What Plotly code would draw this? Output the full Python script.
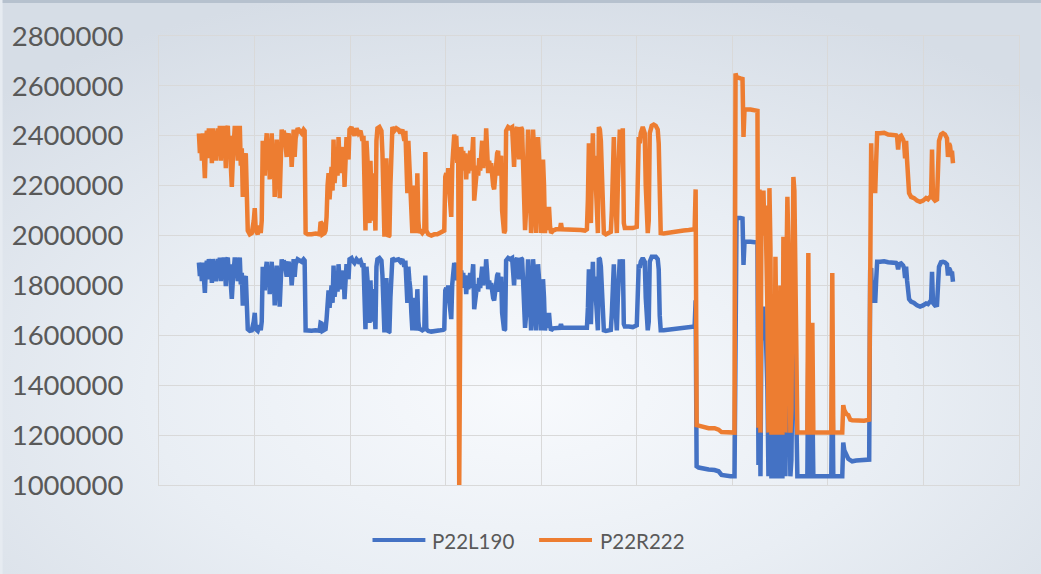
import base64
import plotly.graph_objects as go

# Sample number of each reading (shared by both channels)
sample = [
    400, 410, 420, 430, 440, 450, 460, 470, 480, 490,
    500, 510, 520, 530, 540, 550, 560, 570, 580, 590,
    600, 610, 620, 630, 640, 650, 660, 670, 680, 690,
    700, 710, 720, 730, 740, 750, 760, 770, 780, 790,
    800, 810, 820, 830, 840, 850, 870, 890, 910, 930,
    950, 960, 970, 990, 1010, 1020, 1030, 1040, 1050, 1060,
    1070, 1080, 1090, 1100, 1110, 1120, 1130, 1140, 1150, 1160,
    1170, 1180, 1190, 1200, 1210, 1220, 1230, 1240, 1250, 1260,
    1270, 1280, 1290, 1300, 1310, 1320, 1330, 1340, 1350, 1360,
    1370, 1390, 1410, 1430, 1450, 1460, 1470, 1490, 1530, 1570,
    1610, 1620, 1630, 1640, 1660, 1670, 1680, 1690, 1700, 1710,
    1720, 1730, 1740, 1750, 1760, 1770, 1780, 1790, 1800, 1810,
    1820, 1830, 1840, 1850, 1860, 1870, 1880, 1890, 1900, 1910,
    1930, 1940, 1960, 1980, 2000, 2020, 2040, 2050, 2060, 2070,
    2080, 2090, 2100, 2110, 2120, 2130, 2140, 2150, 2160, 2170,
    2180, 2190, 2210, 2230, 2240, 2250, 2260, 2270, 2280, 2290,
    2300, 2310, 2320, 2330, 2340, 2360, 2380, 2400, 2420, 2440,
    2460, 2470, 2490, 2500, 2510, 2520, 2530, 2540, 2550, 2560,
    2570, 2580, 2590, 2600, 2610, 2620, 2640, 2660, 2670, 2680,
    2700, 2730, 2760, 2790, 2820, 2850, 2860, 2870, 2880, 2890,
    2900, 2910, 2930, 2940, 2950, 2960, 2970, 2980, 2990, 3000,
    3010, 3020, 3030, 3040, 3050, 3060, 3070, 3080, 3090, 3100,
    3110, 3120, 3130, 3140, 3150, 3160, 3170, 3180, 3190, 3200,
    3210, 3220, 3230, 3240, 3250, 3260, 3270, 3280, 3290, 3300,
    3310, 3320, 3330, 3340, 3350, 3360, 3370, 3380, 3390, 3400,
    3410, 3420, 3430, 3440, 3450, 3460, 3470, 3480, 3500, 3520,
    3540, 3560, 3570, 3580, 3590, 3610, 3630, 3640, 3650, 3660,
    3670, 3680, 3700, 3710, 3730, 3740, 3750, 3760, 3770, 3780,
    3790, 3800, 3810, 3820, 3830, 3840, 3850, 3860, 3870, 3880,
    3890, 3900, 3910, 3920, 3930, 3950, 3980, 4020, 4030, 4040,
    4080, 4130, 4180, 4230, 4270, 4290, 4300, 4310, 4320, 4330,
    4340, 4350, 4360, 4370, 4380, 4390, 4400, 4410, 4420, 4430,
    4440, 4450, 4460, 4480, 4510, 4530, 4540, 4550, 4560, 4570,
    4580, 4590, 4600, 4610, 4620, 4630, 4640, 4650, 4660, 4670,
    4710, 4750, 4790, 4800, 4810, 4820, 4830, 4850, 4870, 4880,
    4890, 4900, 4910, 4920, 4940, 4960, 4980, 5000, 5010, 5020,
    5030, 5060, 5110, 5160, 5210, 5260, 5310, 5360, 5370, 5380,
    5390, 5410, 5460, 5510, 5570, 5610, 5640, 5690, 5730, 5770,
    5780, 5790, 5830, 5850, 5860, 5870, 5930, 6000, 6010, 6020,
    6030, 6040, 6050, 6060, 6070, 6080, 6090, 6100, 6110, 6120,
    6130, 6140, 6170, 6180, 6190, 6200, 6220, 6230, 6240, 6250,
    6260, 6270, 6280, 6290, 6300, 6310, 6320, 6330, 6340, 6350,
    6360, 6370, 6380, 6390, 6400, 6470, 6500, 6510, 6520, 6540,
    6550, 6560, 6630, 6740, 6750, 6760, 6850, 6860, 6870, 6890,
    6910, 6930, 6950, 6990, 7030, 7070, 7120, 7130, 7140, 7150,
    7160, 7170, 7180, 7190, 7200, 7230, 7270, 7310, 7350, 7390,
    7400, 7410, 7420, 7440, 7460, 7470, 7480, 7490, 7500, 7510,
    7520, 7540, 7570, 7600, 7630, 7660, 7690, 7710, 7730, 7740,
    7750, 7760, 7780, 7800, 7810, 7820, 7840, 7860, 7880, 7900,
    7910, 7920, 7930, 7940, 7950, 7960,
]

p22l190 = [
    1892000, 1838000, 1885000, 1817000, 1892000, 1831000, 1770000, 1872000, 1899000, 1824000,
    1906000, 1851000, 1899000, 1810000, 1906000, 1858000, 1899000, 1817000, 1892000, 1906000,
    1838000, 1912000, 1817000, 1899000, 1851000, 1912000, 1872000, 1797000, 1899000, 1912000,
    1838000, 1885000, 1804000, 1746000, 1817000, 1899000, 1912000, 1851000, 1912000, 1817000,
    1899000, 1912000, 1804000, 1851000, 1719000, 1817000, 1838000, 1625000, 1618000, 1620000,
    1655000, 1690000, 1625000, 1618000, 1640000, 1620000, 1655000, 1875000, 1835000, 1780000,
    1860000, 1895000, 1820000, 1875000, 1765000, 1850000, 1895000, 1805000, 1855000, 1720000,
    1820000, 1880000, 1800000, 1850000, 1715000, 1840000, 1905000, 1875000, 1900000, 1890000,
    1855000, 1835000, 1885000, 1895000, 1850000, 1875000, 1800000, 1860000, 1905000, 1835000,
    1885000, 1905000, 1900000, 1895000, 1905000, 1900000, 1620000, 1618000, 1618000, 1620000,
    1618000, 1650000, 1648000, 1618000, 1620000, 1625000, 1665000, 1745000, 1780000, 1710000,
    1770000, 1800000, 1730000, 1880000, 1755000, 1810000, 1825000, 1775000, 1885000, 1820000,
    1855000, 1785000, 1840000, 1860000, 1745000, 1835000, 1885000, 1850000, 1825000, 1905000,
    1910000, 1900000, 1890000, 1905000, 1895000, 1900000, 1875000, 1890000, 1650000, 1625000,
    1875000, 1835000, 1770000, 1650000, 1820000, 1715000, 1655000, 1785000, 1690000, 1625000,
    1875000, 1905000, 1910000, 1900000, 1840000, 1650000, 1612000, 1750000, 1830000, 1690000,
    1612000, 1615000, 1750000, 1905000, 1910000, 1900000, 1905000, 1905000, 1895000, 1905000,
    1875000, 1900000, 1730000, 1875000, 1820000, 1785000, 1690000, 1620000, 1750000, 1670000,
    1620000, 1640000, 1785000, 1655000, 1620000, 1625000, 1620000, 1625000, 1840000, 1625000,
    1618000, 1615000, 1618000, 1618000, 1620000, 1622000, 1625000, 1780000, 1790000, 1745000,
    1800000, 1740000, 1665000, 1805000, 1840000, 1890000, 1875000, 1890000, 1820000, 1860000,
    1850000, 1850000, 1860000, 1820000, 1850000, 1790000, 1840000, 1765000, 1835000, 1785000,
    1820000, 1850000, 1790000, 1875000, 1885000, 1705000, 1750000, 1765000, 1805000, 1775000,
    1830000, 1790000, 1840000, 1875000, 1800000, 1855000, 1820000, 1905000, 1850000, 1785000,
    1820000, 1790000, 1810000, 1770000, 1750000, 1740000, 1785000, 1805000, 1840000, 1850000,
    1775000, 1820000, 1835000, 1690000, 1635000, 1620000, 1625000, 1900000, 1910000, 1905000,
    1910000, 1800000, 1895000, 1905000, 1910000, 1825000, 1910000, 1905000, 1820000, 1640000,
    1630000, 1680000, 1905000, 1825000, 1620000, 1685000, 1905000, 1855000, 1740000, 1620000,
    1750000, 1885000, 1825000, 1715000, 1620000, 1690000, 1825000, 1750000, 1620000, 1650000,
    1690000, 1630000, 1690000, 1640000, 1620000, 1628000, 1630000, 1630000, 1645000, 1630000,
    1630000, 1630000, 1630000, 1628000, 1628000, 1630000, 1710000, 1865000, 1785000, 1645000,
    1785000, 1895000, 1740000, 1835000, 1750000, 1685000, 1620000, 1910000, 1905000, 1875000,
    1785000, 1690000, 1620000, 1618000, 1620000, 1622000, 1690000, 1825000, 1885000, 1750000,
    1640000, 1620000, 1750000, 1895000, 1905000, 1820000, 1890000, 1905000, 1645000, 1635000,
    1635000, 1633000, 1640000, 1785000, 1885000, 1870000, 1895000, 1910000, 1895000, 1750000,
    1645000, 1620000, 1655000, 1895000, 1915000, 1915000, 1915000, 1905000, 1865000, 1680000,
    1620000, 1620000, 1622000, 1625000, 1628000, 1630000, 1632000, 1635000, 1635000, 1740000,
    1075000, 1070000, 1065000, 1062000, 1060000, 1055000, 1040000, 1035000, 1035000, 1035000,
    2070000, 2070000, 2070000, 2068000, 1882000, 1975000, 1975000, 1972000, 1080000, 1720000,
    1035000, 1650000, 1600000, 1715000, 1580000, 1660000, 1500000, 1380000, 1035000, 1720000,
    1550000, 1035000, 1035000, 1520000, 1300000, 1035000, 1035000, 1450000, 1035000, 1035000,
    1600000, 1390000, 1035000, 1495000, 1715000, 1570000, 1245000, 1035000, 1100000, 1605000,
    1770000, 1735000, 1390000, 1170000, 1035000, 1035000, 1035000, 1555000, 1035000, 1035000,
    1350000, 1035000, 1035000, 1035000, 1495000, 1035000, 1035000, 1170000, 1140000, 1120000,
    1105000, 1100000, 1095000, 1098000, 1100000, 1100000, 1102000, 1860000, 1870000, 1730000,
    1820000, 1785000, 1730000, 1820000, 1895000, 1895000, 1897000, 1893000, 1893000, 1890000,
    1885000, 1865000, 1885000, 1888000, 1880000, 1870000, 1830000, 1875000, 1820000, 1770000,
    1745000, 1735000, 1730000, 1720000, 1715000, 1720000, 1728000, 1725000, 1735000, 1730000,
    1855000, 1730000, 1720000, 1722000, 1830000, 1875000, 1893000, 1895000, 1892000, 1885000,
    1840000, 1870000, 1862000, 1850000, 1855000, 1815000,
]

p22r222 = [
    2410000, 2330000, 2400000, 2300000, 2410000, 2320000, 2230000, 2380000, 2420000, 2310000,
    2430000, 2350000, 2420000, 2290000, 2430000, 2360000, 2420000, 2300000, 2410000, 2430000,
    2330000, 2440000, 2300000, 2420000, 2350000, 2440000, 2380000, 2270000, 2420000, 2440000,
    2330000, 2400000, 2280000, 2195000, 2300000, 2420000, 2440000, 2350000, 2440000, 2300000,
    2420000, 2440000, 2280000, 2350000, 2155000, 2300000, 2330000, 2020000, 2005000, 2010000,
    2060000, 2110000, 2020000, 2005000, 2040000, 2010000, 2060000, 2380000, 2320000, 2240000,
    2360000, 2410000, 2300000, 2380000, 2225000, 2340000, 2410000, 2280000, 2350000, 2155000,
    2300000, 2385000, 2270000, 2340000, 2150000, 2330000, 2425000, 2380000, 2420000, 2400000,
    2350000, 2315000, 2390000, 2410000, 2340000, 2380000, 2275000, 2360000, 2425000, 2315000,
    2390000, 2430000, 2420000, 2410000, 2425000, 2420000, 2010000, 2005000, 2005000, 2008000,
    2005000, 2055000, 2050000, 2005000, 2010000, 2020000, 2075000, 2200000, 2250000, 2145000,
    2230000, 2275000, 2180000, 2385000, 2210000, 2290000, 2315000, 2240000, 2395000, 2300000,
    2350000, 2250000, 2330000, 2355000, 2195000, 2320000, 2395000, 2340000, 2305000, 2425000,
    2435000, 2420000, 2400000, 2430000, 2410000, 2420000, 2380000, 2400000, 2050000, 2020000,
    2380000, 2320000, 2230000, 2050000, 2300000, 2150000, 2060000, 2250000, 2100000, 2020000,
    2380000, 2430000, 2435000, 2420000, 2330000, 2050000, 1995000, 2200000, 2310000, 2100000,
    1995000, 2000000, 2200000, 2430000, 2435000, 2420000, 2430000, 2425000, 2410000, 2425000,
    2380000, 2420000, 2170000, 2380000, 2300000, 2250000, 2100000, 2010000, 2200000, 2080000,
    2010000, 2040000, 2250000, 2060000, 2010000, 2020000, 2010000, 2020000, 2335000, 2020000,
    2005000, 2000000, 2005000, 2005000, 2010000, 2015000, 2020000, 2235000, 2250000, 2190000,
    2270000, 2180000, 2075000, 2280000, 2330000, 2405000, 2380000, 2400000, 2300000, 2300000,
    1000000, 2350000, 2355000, 2300000, 2340000, 2260000, 2330000, 2225000, 2320000, 2250000,
    2300000, 2340000, 2260000, 2380000, 2395000, 2140000, 2200000, 2225000, 2280000, 2240000,
    2310000, 2260000, 2330000, 2380000, 2270000, 2350000, 2300000, 2430000, 2340000, 2250000,
    2300000, 2260000, 2290000, 2230000, 2200000, 2185000, 2250000, 2280000, 2330000, 2340000,
    2240000, 2300000, 2320000, 2100000, 2030000, 2010000, 2020000, 2420000, 2435000, 2430000,
    2435000, 2275000, 2410000, 2430000, 2435000, 2305000, 2435000, 2425000, 2300000, 2035000,
    2022000, 2100000, 2425000, 2315000, 2010000, 2100000, 2425000, 2350000, 2185000, 2010000,
    2200000, 2395000, 2315000, 2150000, 2010000, 2100000, 2305000, 2200000, 2010000, 2050000,
    2115000, 2022000, 2115000, 2040000, 2010000, 2020000, 2025000, 2025000, 2050000, 2025000,
    2025000, 2022000, 2025000, 2022000, 2020000, 2025000, 2145000, 2370000, 2250000, 2050000,
    2250000, 2410000, 2185000, 2320000, 2200000, 2100000, 2010000, 2435000, 2425000, 2380000,
    2250000, 2100000, 2010000, 2005000, 2010000, 2015000, 2100000, 2315000, 2395000, 2200000,
    2035000, 2010000, 2200000, 2410000, 2425000, 2300000, 2400000, 2430000, 2050000, 2030000,
    2030000, 2030000, 2035000, 2250000, 2395000, 2370000, 2410000, 2435000, 2410000, 2200000,
    2050000, 2010000, 2060000, 2410000, 2440000, 2445000, 2440000, 2425000, 2370000, 2100000,
    2010000, 2008000, 2012000, 2015000, 2018000, 2020000, 2022000, 2025000, 2025000, 2185000,
    1240000, 1238000, 1232000, 1228000, 1228000, 1222000, 1212000, 1210000, 1210000, 1210000,
    2650000, 2635000, 2630000, 2628000, 2395000, 2505000, 2505000, 2500000, 1230000, 2185000,
    1210000, 2100000, 2035000, 2180000, 2000000, 2120000, 1900000, 1700000, 1210000, 2190000,
    1950000, 1210000, 1210000, 1915000, 1600000, 1210000, 1210000, 1800000, 1210000, 1210000,
    1995000, 1700000, 1210000, 1850000, 2155000, 1950000, 1500000, 1210000, 1300000, 2000000,
    2235000, 2180000, 1700000, 1400000, 1210000, 1210000, 1210000, 1930000, 1210000, 1210000,
    1650000, 1210000, 1210000, 1210000, 1850000, 1210000, 1210000, 1320000, 1300000, 1285000,
    1280000, 1262000, 1260000, 1258000, 1260000, 1258000, 1262000, 2355000, 2370000, 2170000,
    2300000, 2250000, 2170000, 2300000, 2410000, 2410000, 2412000, 2405000, 2405000, 2402000,
    2395000, 2345000, 2395000, 2400000, 2385000, 2370000, 2310000, 2380000, 2300000, 2200000,
    2170000, 2155000, 2150000, 2140000, 2135000, 2140000, 2150000, 2145000, 2155000, 2150000,
    2345000, 2150000, 2140000, 2145000, 2300000, 2380000, 2405000, 2410000, 2405000, 2390000,
    2315000, 2370000, 2360000, 2330000, 2340000, 2290000,
]

assert len(sample) == len(p22l190) == len(p22r222)

series_names = ["P22L190", "P22R222"]
series_colors = ["#4472C4", "#ED7D31"]

y_ticks = [1000000, 1200000, 1400000, 1600000, 1800000,
           2000000, 2200000, 2400000, 2600000, 2800000]

W, H = 1041, 574
ML, MR, MT, MB = 157, 22, 36, 89
PW, PH = W - ML - MR, H - MT - MB

GRID = "#d9d9d9"
TEXT = "#595959"


def px_to_paper_x(px):
    return (px - ML) / PW


def px_to_paper_y(py):
    return (H - MB - py) / PH


# Soft elliptical gradient behind the whole chart, with a thin darker strip on top
bg_svg = (
    f'<svg xmlns="http://www.w3.org/2000/svg" width="{W}" height="{H}" '
    f'viewBox="0 0 {W} {H}" preserveAspectRatio="none">'
    '<defs><radialGradient id="g" cx="0.5" cy="0.68" r="0.72">'
    '<stop offset="0" stop-color="#f8fafd"/>'
    '<stop offset="0.5" stop-color="#e9eef4"/>'
    '<stop offset="1" stop-color="#d6dde6"/>'
    '</radialGradient></defs>'
    f'<rect width="{W}" height="{H}" fill="url(#g)"/>'
    f'<rect width="{W}" height="3" fill="#b6c1ce"/>'
    '</svg>'
)
bg_uri = "data:image/svg+xml;base64," + base64.b64encode(bg_svg.encode()).decode()

fig = go.Figure()
for values, name, color in zip([p22l190, p22r222], series_names, series_colors):
    fig.add_trace(go.Scatter(
        x=sample, y=values, name=name, mode="lines",
        line=dict(color=color, width=4.5),
    ))

# Bottom legend: long line swatch followed by the series name
legend_y = px_to_paper_y(540)
legend_items = [(371, 424, 429), (538, 591, 597)]
shapes, annotations = [], []
for (x0, x1, xt), name, color in zip(legend_items, series_names, series_colors):
    shapes.append(dict(
        type="line", xref="paper", yref="paper",
        x0=px_to_paper_x(x0), x1=px_to_paper_x(x1), y0=legend_y, y1=legend_y,
        line=dict(color=color, width=4),
    ))
    annotations.append(dict(
        text=name, xref="paper", yref="paper",
        x=px_to_paper_x(xt), y=px_to_paper_y(541), xanchor="left", yanchor="middle",
        showarrow=False, font=dict(family="Lato", size=20.5, color=TEXT),
    ))

fig.update_layout(
    width=W, height=H,
    margin=dict(l=ML, r=MR, t=MT, b=MB),
    paper_bgcolor="#e6ebf1",
    plot_bgcolor="rgba(0,0,0,0)",
    font=dict(family="Lato", color=TEXT),
    images=[dict(
        source=bg_uri, xref="paper", yref="paper",
        x=-ML / PW, y=1 + MT / PH, sizex=W / PW, sizey=H / PH,
        xanchor="left", yanchor="top", sizing="stretch", layer="below",
    )],
    showlegend=False,
    shapes=shapes,
    annotations=annotations,
    xaxis=dict(
        range=[0, 8622], tick0=0, dtick=958,
        showticklabels=False, ticks="",
        showgrid=True, gridcolor=GRID, gridwidth=1.3,
        zeroline=False, showline=True, linecolor=GRID, linewidth=1.3, mirror=True,
    ),
    yaxis=dict(
        range=[1000000, 2800000], tickvals=y_ticks, tickformat="d",
        ticks="", ticklabelstandoff=29,
        tickfont=dict(family="Lato", size=27.5, color=TEXT),
        showgrid=True, gridcolor=GRID, gridwidth=1.3,
        zeroline=False, showline=True, linecolor=GRID, linewidth=1.3, mirror=True,
    ),
)

fig.write_html("out.html")
